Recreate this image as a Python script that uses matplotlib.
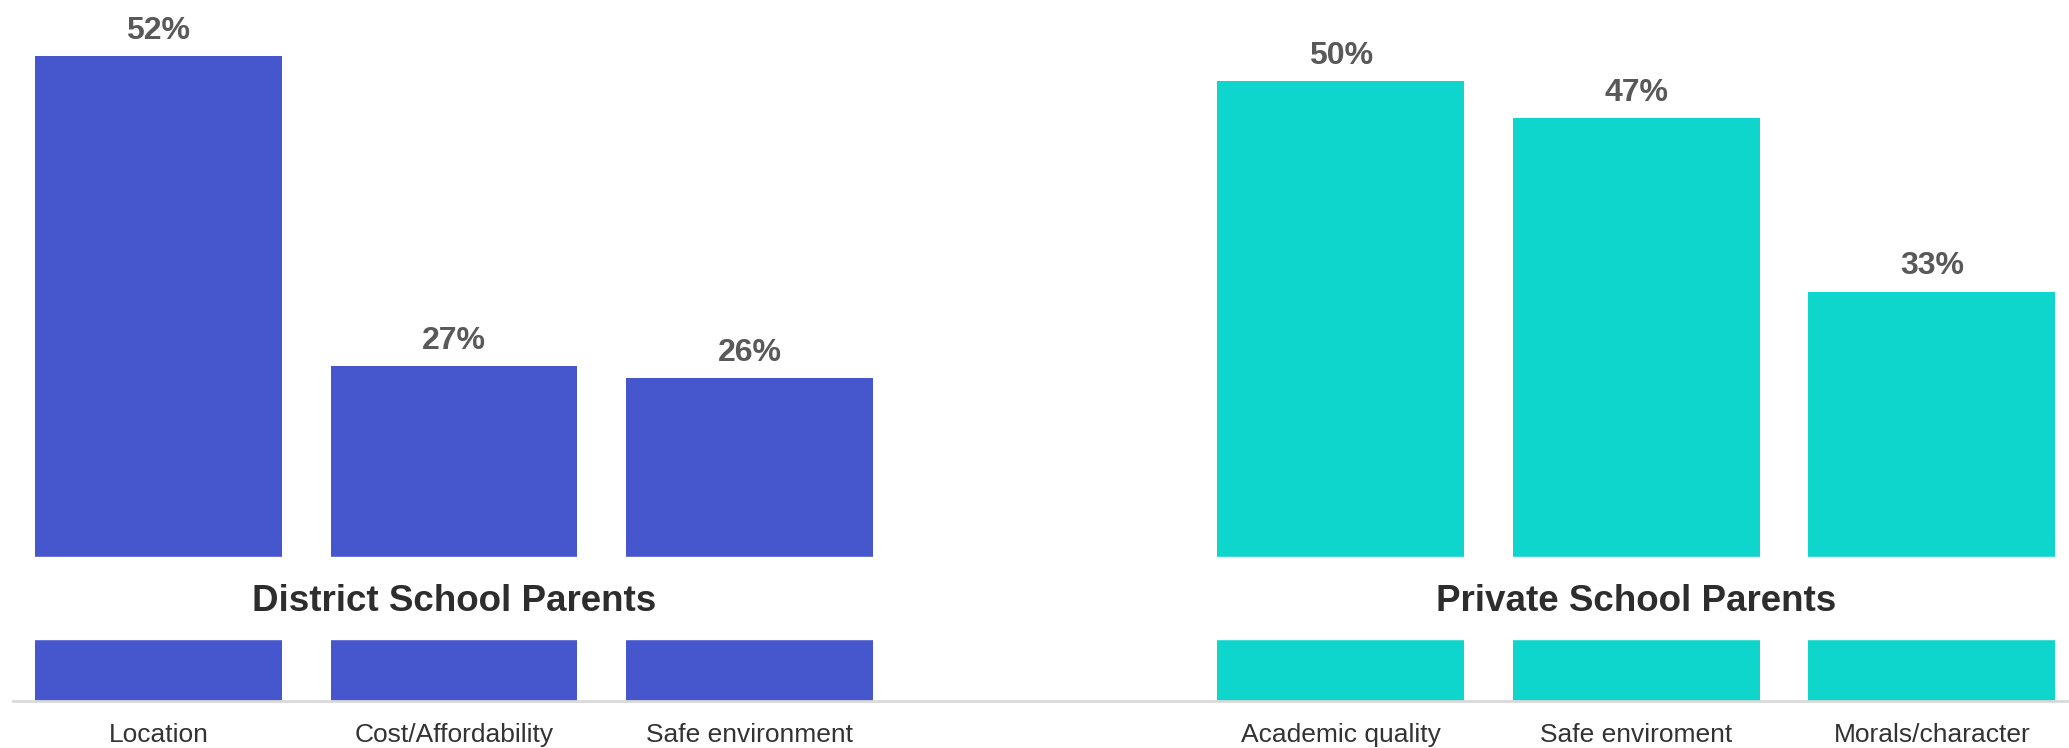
import numpy as np
import matplotlib
matplotlib.use("Agg")
import matplotlib.pyplot as plt

plt.rcParams['font.family'] = ['Liberation Sans', 'DejaVu Sans']

district_labels = ["Location", "Cost/Affordability", "Safe environment"]
district_values = [52, 27, 26]
private_labels = ["Academic quality", "Safe enviroment", "Morals/character"]
private_values = [50, 47, 33]
group_titles = ["District School Parents", "Private School Parents"]

blue = "#4657CE"
teal = "#0FD6CC"

fig = plt.figure(figsize=(20.69, 7.48), dpi=100)
ax = fig.add_axes([10 / 1568, 36 / 567, 1 - 10 / 1568, 531 / 567])

x_d = np.arange(len(district_values))
x_p = np.arange(len(private_values)) + len(district_values) + 1

bars_d = ax.bar(x_d, district_values, width=0.835, color=blue, zorder=1)
bars_p = ax.bar(x_p, private_values, width=0.835, color=teal, zorder=1)

# white band with the group titles
ax.axhspan(5.0, 11.6, color="white", zorder=2)
ax.text(x_d.mean(), 8.0, group_titles[0], ha="center", va="center",
        fontsize=26.5, fontweight="bold", color="#2d2d2d", zorder=3)
ax.text(x_p.mean(), 8.0, group_titles[1], ha="center", va="center",
        fontsize=26.5, fontweight="bold", color="#2d2d2d", zorder=3)

for bars, vals in [(bars_d, district_values), (bars_p, private_values)]:
    for b, v in zip(bars, vals):
        ax.annotate(f"{v}%", (b.get_x() + b.get_width() / 2, v),
                    xytext=(0, 7.5), textcoords="offset points",
                    ha="center", va="bottom", fontsize=23,
                    fontweight="bold", color="#595959")

ax.set_xlim(-0.491, 6.464)
ax.set_ylim(0, 56.55)
ax.set_xticks(np.concatenate([x_d, x_p]))
ax.set_xticklabels(district_labels + private_labels, fontsize=19, color="#333333")
ax.tick_params(axis="x", length=0, pad=16)
ax.set_yticks([])
for s in ["top", "right", "left"]:
    ax.spines[s].set_visible(False)
ax.spines["bottom"].set_color("#d9d9d9")
ax.spines["bottom"].set_linewidth(2)
ax.patch.set_alpha(0)

fig.savefig("out.png", dpi=100)
